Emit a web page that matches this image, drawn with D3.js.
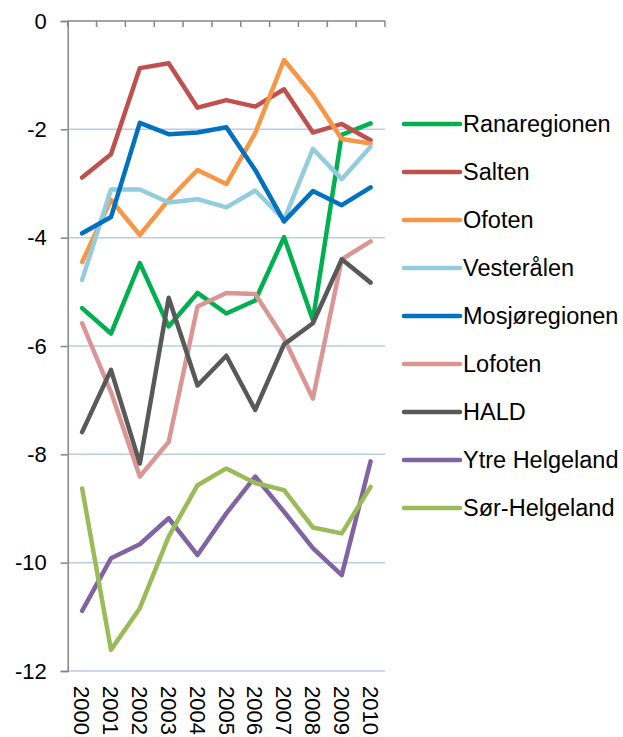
<!DOCTYPE html>
<html>
<head>
<meta charset="utf-8">
<script src="https://cdn.jsdelivr.net/npm/d3@7"></script>
<style>
  body { margin: 0; background: #fff; }
  text { font-family: Arial, "Liberation Sans", sans-serif; fill: #000; }
</style>
</head>
<body>
<script>
var years = ["2000","2001","2002","2003","2004","2005","2006","2007","2008","2009","2010"];
var yTicks = [0, -2, -4, -6, -8, -10, -12];

var ranaregionen  = [-5.30,-5.77,-4.47,-5.64,-5.02,-5.40,-5.16,-3.99,-5.52,-2.10,-1.89];
var salten        = [-2.89,-2.46,-0.87,-0.78,-1.60,-1.46,-1.58,-1.26,-2.06,-1.90,-2.20];
var ofoten        = [-4.45,-3.30,-3.95,-3.30,-2.75,-3.01,-2.07,-0.72,-1.37,-2.18,-2.26];
var vesteralen    = [-4.78,-3.11,-3.11,-3.35,-3.29,-3.44,-3.13,-3.67,-2.36,-2.92,-2.32];
var mosjoregionen = [-3.92,-3.62,-1.88,-2.09,-2.06,-1.96,-2.75,-3.70,-3.14,-3.40,-3.07];
var lofoten       = [-5.58,-6.85,-8.41,-7.77,-5.27,-5.02,-5.04,-5.86,-6.97,-4.40,-4.07];
var hald          = [-7.59,-6.44,-8.17,-5.11,-6.73,-6.18,-7.18,-5.97,-5.58,-4.40,-4.83];
var ytreHelgeland = [-10.89,-9.92,-9.66,-9.18,-9.86,-9.09,-8.41,-9.06,-9.73,-10.23,-8.13];
var sorHelgeland  = [-8.63,-11.61,-10.84,-9.52,-8.57,-8.26,-8.53,-8.66,-9.35,-9.46,-8.60];

var series = [
  { name: "Ranaregionen",   values: ranaregionen,  color: "#00B050" },
  { name: "Salten",         values: salten,        color: "#C0504D" },
  { name: "Ofoten",         values: ofoten,        color: "#F79646" },
  { name: "Vesterålen",     values: vesteralen,    color: "#93CDDD" },
  { name: "Mosjøregionen",  values: mosjoregionen, color: "#0070C0" },
  { name: "Lofoten",        values: lofoten,       color: "#D99694" },
  { name: "HALD",           values: hald,          color: "#595959" },
  { name: "Ytre Helgeland", values: ytreHelgeland, color: "#8064A2" },
  { name: "Sør-Helgeland",  values: sorHelgeland,  color: "#9BBB59" }
];

var W = 623, H = 737;
var plotL = 67.7, plotR = 385, plotT = 21, plotB = 671;

var svg = d3.select("body").append("svg")
  .attr("width", W).attr("height", H);

var x = d3.scaleBand().domain(years).range([plotL, plotR]);
var y = d3.scaleLinear().domain([0, -12]).range([plotT, plotB]);

// gridlines
svg.append("g").selectAll("line")
  .data(yTicks.filter(function(d) { return d != 0; })).enter()
  .append("line")
  .attr("x1", plotL).attr("x2", plotR)
  .attr("y1", function(d) { return y(d); })
  .attr("y2", function(d) { return y(d); })
  .style("stroke", "#B9CDE5")
  .style("stroke-width", 1.5);

// y axis
var yAxis = svg.append("g")
  .attr("transform", "translate(" + plotL + ",0)")
  .call(d3.axisLeft(y).tickValues(yTicks).tickSize(7).tickPadding(14)
        .tickFormat(function(d) { return d == 0 ? "0" : "-" + Math.abs(d); }));
yAxis.select(".domain").style("stroke", "#868686").style("stroke-width", 1.5);
yAxis.selectAll(".tick line").style("stroke", "#868686").style("stroke-width", 1.5);
yAxis.selectAll(".tick text")
  .style("font-size", "22px")
  .attr("font-family", null);

// category axis along the top (value 0)
var catG = svg.append("g");
catG.append("line")
  .attr("x1", plotL).attr("x2", plotR)
  .attr("y1", plotT).attr("y2", plotT)
  .style("stroke", "#868686").style("stroke-width", 1.5);
var bounds = years.map(function(d) { return x(d); }).concat([plotR]);
catG.selectAll("line.tk")
  .data(bounds).enter()
  .append("line").attr("class", "tk")
  .attr("x1", function(d) { return d; }).attr("x2", function(d) { return d; })
  .attr("y1", plotT).attr("y2", plotT + 6)
  .style("stroke", "#868686").style("stroke-width", 1.5);

// year labels, rotated, under the plot
svg.append("g").selectAll("text")
  .data(years).enter()
  .append("text")
  .attr("transform", function(d) {
    return "translate(" + (x(d) + x.bandwidth() / 2) + "," + 686 + ") rotate(90)";
  })
  .attr("dy", "0.35em")
  .style("font-size", "22px")
  .text(function(d) { return d; });

// lines
var line = d3.line()
  .x(function(d, i) { return x(years[i]) + x.bandwidth() / 2; })
  .y(function(d) { return y(d); });

svg.append("g").selectAll("path")
  .data(series).enter()
  .append("path")
  .attr("d", function(d) { return line(d.values); })
  .style("fill", "none")
  .style("stroke", function(d) { return d.color; })
  .style("stroke-width", 4.5)
  .style("stroke-linejoin", "round")
  .style("stroke-linecap", "round");

// legend
var leg = svg.append("g").selectAll("g")
  .data(series).enter()
  .append("g")
  .attr("transform", function(d, i) { return "translate(0," + (124 + i * 48) + ")"; });
leg.append("line")
  .attr("x1", 404).attr("x2", 460)
  .style("stroke", function(d) { return d.color; })
  .style("stroke-width", 4.5)
  .style("stroke-linecap", "round");
leg.append("text")
  .attr("x", 463)
  .attr("dy", "0.35em")
  .style("font-size", "23.5px")
  .text(function(d) { return d.name; });
</script>
</body>
</html>
